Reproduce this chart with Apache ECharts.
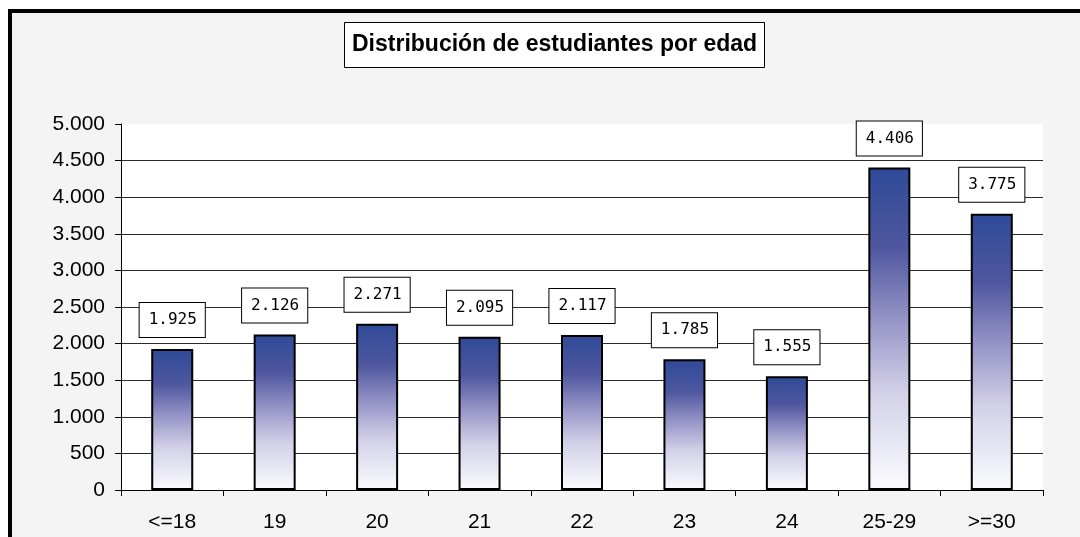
<!DOCTYPE html>
<html>
<head>
<meta charset="utf-8">
<script src="https://cdn.jsdelivr.net/npm/echarts@6/dist/echarts.min.js"></script>
<style>
    html, body { margin: 0; padding: 0; background: #fff; }
    #frame {
        position: absolute; left: 8px; top: 9px; width: 1200px; height: 700px;
        border-left: 4px solid #000; border-top: 4px solid #000;
        background: #f4f4f4;
    }
    #chart { position: absolute; left: 0; top: 0; width: 1080px; height: 537px; }
</style>
</head>
<body>
<div id="frame"></div>
<div id="chart"></div>
<script>
// 数据
const categories = ['<=18', '19', '20', '21', '22', '23', '24', '25-29', '>=30'];
const students = [1925, 2126, 2271, 2095, 2117, 1785, 1555, 4406, 3775];
const titleText = 'Distribución de estudiantes por edad';

// 千位分隔用点号 (西班牙格式)
function fmtNum(v) {
    return String(v).replace(/\B(?=(\d{3})+(?!\d))/g, '.');
}

const chart = echarts.init(document.getElementById('chart'), null, { renderer: 'canvas' });

chart.setOption({
    backgroundColor: 'transparent',
    animation: false,
    title: {
        text: titleText,
        left: 344,
        top: 22,
        padding: [11, 8, 12, 8],
        backgroundColor: '#fff',
        borderColor: '#000',
        borderWidth: 1,
        textStyle: {
            fontFamily: 'Liberation Sans, Arial, sans-serif',
            fontSize: 23,
            fontWeight: 'bold',
            color: '#000'
        }
    },
    grid: {
        left: 121, right: 37, top: 124, bottom: 47,
        show: true,
        backgroundColor: '#fff',
        borderWidth: 0
    },
    xAxis: {
        type: 'category',
        data: categories,
        axisLine: { lineStyle: { color: '#000', width: 1 } },
        axisTick: { show: true, length: 6, lineStyle: { color: '#000' } },
        axisLabel: {
            margin: 22,
            color: '#000',
            fontFamily: 'Liberation Sans, Arial, sans-serif',
            fontSize: 21
        }
    },
    yAxis: {
        type: 'value',
        min: 0,
        max: 5000,
        interval: 500,
        axisLine: { show: true, lineStyle: { color: '#000', width: 1 } },
        axisTick: { show: true, length: 6, lineStyle: { color: '#000' } },
        axisLabel: {
            margin: 16,
            color: '#000',
            fontFamily: 'Liberation Sans, Arial, sans-serif',
            fontSize: 21,
            formatter: v => fmtNum(v)
        },
        splitLine: {
            show: true,
            showMaxLine: false,
            lineStyle: { color: '#2a2a2a', width: 1 }
        }
    },
    series: [{
        type: 'bar',
        data: students,
        barWidth: 42,
        itemStyle: {
            borderColor: '#000',
            borderWidth: 2,
            color: new echarts.graphic.LinearGradient(0, 0, 0, 1, [
                { offset: 0, color: '#2f4a98' },
                { offset: 0.25, color: '#4f579f' },
                { offset: 0.45, color: '#8f8ec3' },
                { offset: 0.7, color: '#d3d1e8' },
                { offset: 1, color: '#fbfbfe' }
            ])
        },
        label: {
            show: true,
            position: 'top',
            distance: 12,
            formatter: p => fmtNum(p.value),
            color: '#000',
            fontFamily: 'DejaVu Sans Mono, monospace',
            fontSize: 16,
            lineHeight: 16,
            backgroundColor: '#fff',
            borderColor: '#000',
            borderWidth: 1,
            padding: [9, 8, 9, 9]
        }
    }]
});
</script>
</body>
</html>
